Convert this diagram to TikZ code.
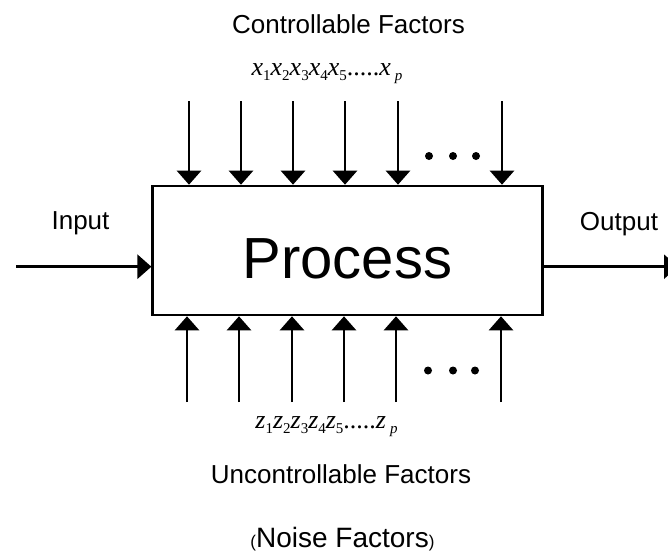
\documentclass[tikz,border=0pt]{standalone}
\usepackage{fontspec}
\setmainfont{Liberation Sans}
\newfontfamily\tmsfont{Liberation Serif}
\usepackage{tikz}
\usetikzlibrary{arrows.meta,calc}
% factor symbol with a lowered subscript
\newcommand{\fsub}[2]{\textit{#1}\raisebox{-0.45ex}{\fontsize{15}{16}\selectfont #2}}

\begin{document}
\begin{tikzpicture}[x=1pt,y=-1pt,
    flow/.style={line width=2.6pt,-{Triangle[length=14pt,width=24pt]}},
    procbox/.style={draw,line width=2.6pt,minimum width=389.6pt,minimum height=129pt,inner sep=0pt},
    lbl/.style={anchor=base,inner sep=0pt,font=\fontsize{26}{30}\selectfont},
    facrow/.style={anchor=base,inner sep=0pt,font=\tmsfont\fontsize{26}{30}\selectfont}]
        % Page frame
        \useasboundingbox (0,0) rectangle (668,552);
        % Process block
        \node[procbox] (proc) at (347.5,250.5) {};
        \node[anchor=base,inner sep=0pt,font=\fontsize{58}{64}\selectfont] (ptext) at (347.5,278) {Process};
        % Input and output
        \coordinate (inL) at (16,266.7);
        \coordinate (outR) at (678,266.7);
        \draw[flow] (inL) -- (inL -| proc.west);
        \draw[flow] (proc.east |- outR) -- (outR);
        \node[lbl] (input) at (80.5,229) {Input};
        \node[lbl] (output) at (619,230) {Output};
        % Controllable factors (top)
        \foreach \x [count=\i] in {189,241,293,345,398,502} {
          \coordinate (ctop\i) at (\x,101);
          \draw[flow] (ctop\i) -- (ctop\i |- proc.north);
        }
        \foreach \x in {429,453,476} \fill (\x,156) circle (4);
        \node[lbl] (ctitle) at (348.5,33) {Controllable Factors};
        \node[facrow] (xrow) at (327,75)
          {\fsub{x}{1}\fsub{x}{2}\fsub{x}{3}\fsub{x}{4}\fsub{x}{5}.....\textit{x}\kern4pt\fsub{}{\itshape p}};
        % Uncontrollable factors (bottom)
        \foreach \x [count=\i] in {187,239,292,344,396,501} {
          \coordinate (zbot\i) at (\x,402);
          \draw[flow] (zbot\i) -- (zbot\i |- proc.south);
        }
        \foreach \x in {428,453,475} \fill (\x,370.5) circle (4);
        \node[facrow] (zrow) at (326.5,428)
          {\fsub{z}{1}\fsub{z}{2}\fsub{z}{3}\fsub{z}{4}\fsub{z}{5}.....\textit{z}\kern4pt\fsub{}{\itshape p}};
        \node[lbl] (utitle) at (341,483) {Uncontrollable Factors};
        \node[anchor=base,inner sep=0pt,font=\fontsize{28}{32}\selectfont] (ntitle) at (342.5,547)
          {{\fontsize{17}{20}\selectfont(}Noise Factors{\fontsize{17}{20}\selectfont)}};
      \end{tikzpicture}
\end{document}
